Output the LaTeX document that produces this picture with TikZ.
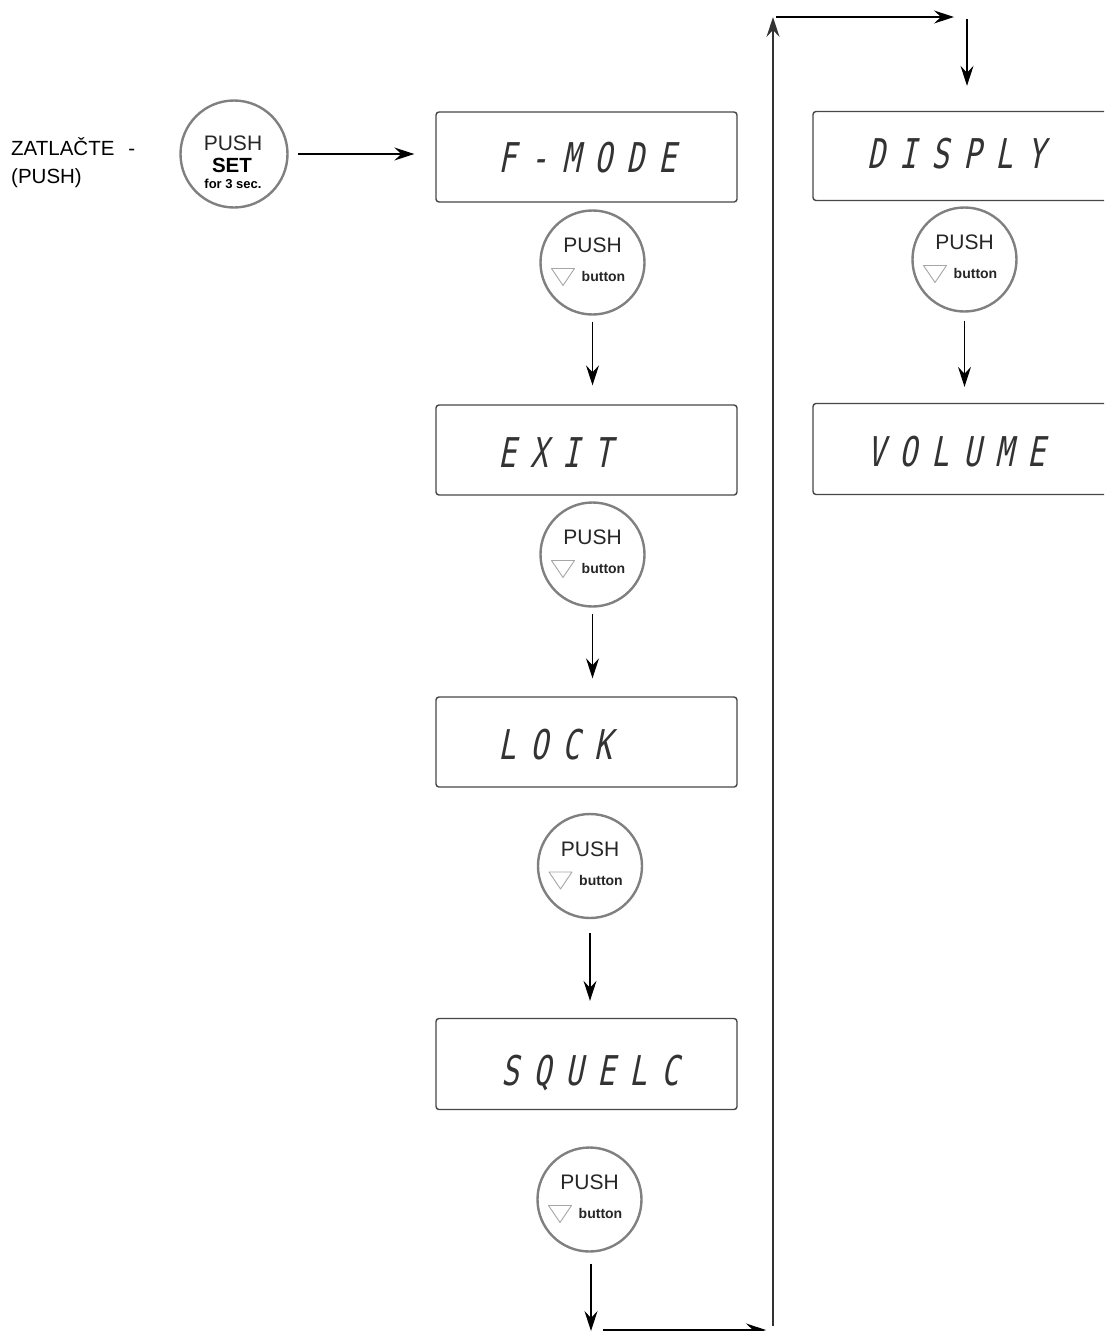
\documentclass[tikz,border=0pt]{standalone}
\usepackage{fontspec}
\setmainfont{Liberation Sans}
\newfontfamily\lcdfont[FakeSlant=0.2,FakeStretch=0.72]{DejaVu Sans Mono}
\usetikzlibrary{arrows.meta}
\newcommand\lcdc[1]{\makebox[32pt][c]{#1}}
\newcommand\pushbtn[2]{%
  \node[btn] (#1) at (#2) {};
  \node[pushtxt] (#1p) at ([shift={(0,-17)}]#1.center) {PUSH};
  \node[btntxt] (#1b) at ([shift={(11,14)}]#1.center) {button};
  \draw[tri] ([shift={(-41,6)}]#1.center) -- ++(23,0) -- ++(-11.5,17) -- cycle;
}
\begin{document}
\begin{tikzpicture}[x=1pt,y=-1pt,
  lcdbox/.style={draw=black!72, line width=1.4pt, rounded corners=3pt, inner sep=0pt},
  lcd/.style={font=\lcdfont\fontsize{41}{44}\selectfont, text=black!80, inner sep=0pt},
  btn/.style={circle, draw=black!50, line width=2.4pt, minimum size=104pt, inner sep=0pt},
  pushtxt/.style={font=\fontsize{21}{24}\selectfont, text=black!85, inner sep=0pt},
  btntxt/.style={font=\bfseries\fontsize{14}{16}\selectfont, text=black!85, inner sep=0pt},
  tri/.style={draw=black!35, line width=0.9pt, line join=round},
  arr/.style={-{Stealth[length=20pt,width=13pt,inset=7pt]}, line width=1.2pt, black}]
\clip (0,0) rectangle (1104,1331);
\fill[white] (0,0) rectangle (1104,1331);

% label
\node[anchor=base west, align=left, font=\fontsize{20.5}{28}\selectfont, inner sep=0pt] (lbl) at (11,183) {ZATLAČTE\hspace{14pt}-\\(PUSH)};

% set button
\node[btn, minimum size=107pt] (setbtn) at (234,154) {};
\node[pushtxt] (setp) at (233,143) {PUSH};
\node[font=\bfseries\fontsize{20.5}{22}\selectfont, inner sep=0pt] (sets) at (232,165) {SET};
\node[font=\bfseries\fontsize{13}{15}\selectfont, inner sep=0pt] (setf) at (233,184) {for 3 sec.};

% left column displays
\node[lcdbox, minimum width=301pt, minimum height=90pt] (fmode) at (586.5,157) {};
\node[lcd, anchor=base] (fmodet) at (587,172) {\lcdc{F}\lcdc{-}\lcdc{M}\lcdc{O}\lcdc{D}\lcdc{E}};
\node[lcdbox, minimum width=301pt, minimum height=90pt] (exit) at (586.5,450) {};
\node[lcd, anchor=base] (exitt) at (587,467) {\lcdc{E}\lcdc{X}\lcdc{I}\lcdc{T}\lcdc{}\lcdc{}};
\node[lcdbox, minimum width=301pt, minimum height=90pt] (lock) at (586.5,742) {};
\node[lcd, anchor=base] (lockt) at (587,759) {\lcdc{L}\lcdc{O}\lcdc{C}\lcdc{K}\lcdc{}\lcdc{}};
\node[lcdbox, minimum width=301pt, minimum height=91pt] (squelc) at (586.5,1064) {};
\node[lcd, anchor=base] (squelct) at (590,1085) {\lcdc{S}\lcdc{Q}\lcdc{U}\lcdc{E}\lcdc{L}\lcdc{C}};

% right column displays
\node[lcdbox, minimum width=310pt, minimum height=89pt] (disply) at (968,156) {};
\node[lcd, anchor=base] (displyt) at (956,168) {\lcdc{D}\lcdc{I}\lcdc{S}\lcdc{P}\lcdc{L}\lcdc{Y}};
\node[lcdbox, minimum width=310pt, minimum height=91pt] (volume) at (968,449) {};
\node[lcd, anchor=base] (volumet) at (956,466) {\lcdc{V}\lcdc{O}\lcdc{L}\lcdc{U}\lcdc{M}\lcdc{E}};

% push buttons
\pushbtn{b1}{592.5,262.5}
\pushbtn{b2}{592.5,554.5}
\pushbtn{b3}{590,866}
\pushbtn{b4}{589.5,1199.5}
\pushbtn{b5}{964.5,259.5}

% connectors
\draw[arr, shorten <=9pt, shorten >=21pt] (setbtn.east) -- (setbtn.east -| fmode.west);
\draw[arr, shorten <=6pt, shorten >=19pt] (b1.south) -- (b1.south |- exit.north);
\draw[arr, shorten <=6pt, shorten >=18pt] (b2.south) -- (b2.south |- lock.north);
\draw[arr, shorten <=14pt, shorten >=17pt] (b3.south) -- (b3.south |- squelc.north);
\coordinate (c1) at (591,1331);
\draw[arr, shorten <=11pt] (b4.south -| c1) -- (c1);
\coordinate (c2) at (603,1330);
\coordinate (c3) at (766,1330);
\draw[arr] (c2) -- (c3);
\coordinate (c4) at (773,1326);
\coordinate (c5) at (773,17);
\draw[arr, line width=1.4pt, black!80] (c4) -- (c5);
\coordinate (c6) at (776,17);
\coordinate (c7) at (954,17);
\draw[arr] (c6) -- (c7);
\coordinate (c8) at (967,19);
\draw[arr, shorten >=25pt] (c8) -- (c8 |- disply.north);
\draw[arr, shorten <=8pt, shorten >=16pt] (b5.south) -- (b5.south |- volume.north);
\end{tikzpicture}
\end{document}
